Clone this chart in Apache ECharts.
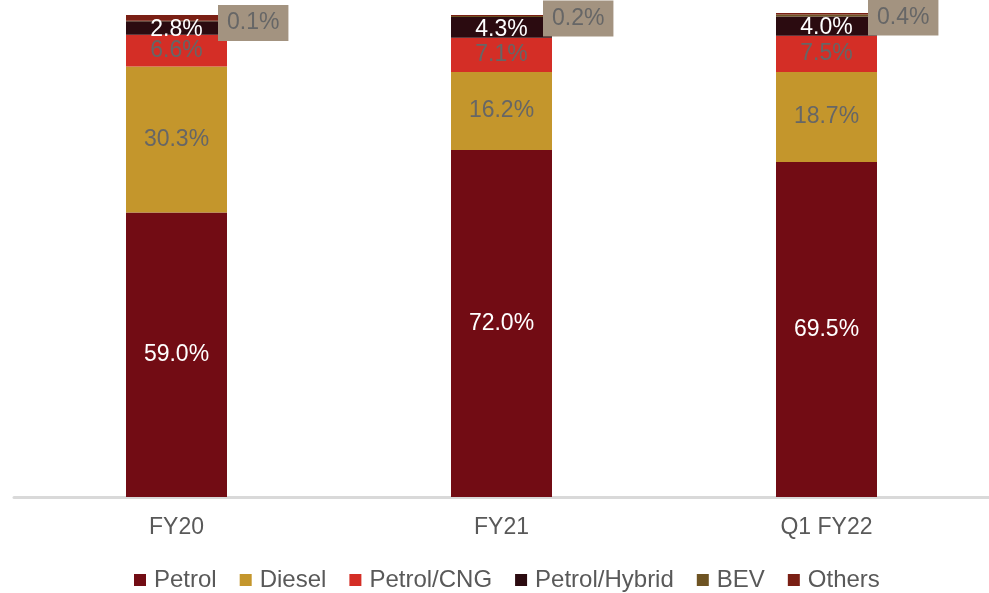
<!DOCTYPE html>
<html><head><meta charset="utf-8">
<script src="https://cdn.jsdelivr.net/npm/echarts@6/dist/echarts.min.js"></script>
<style>html,body{margin:0;padding:0;background:#fff}#c{width:989px;height:593px}</style>
</head><body><div id="c"></div>
<script>
const categories = ['FY20', 'FY21', 'Q1 FY22'];
const petrol = [59.0, 72.0, 69.5];
const diesel = [30.3, 16.2, 18.7];
const petrolCng = [6.6, 7.1, 7.5];
const petrolHybrid = [2.8, 4.3, 4.0];
const bev = [0.1, 0.2, 0.4];
const others = [1.2, 0.2, 0.3];

const FONT = 'Liberation Sans, Arial, sans-serif';
const fmt = p => p.value.toFixed(1) + '%';
function seg(name, data, color, labelColor, extra) {
  return Object.assign({
    name, type: 'bar', stack: 'total', data, barWidth: 101, clip: false,
    itemStyle: { color },
    label: { show: true, position: 'inside', color: labelColor, fontSize: 23, fontFamily: FONT, formatter: fmt },
    emphasis: { disabled: true }
  }, extra || {});
}
const chart = echarts.init(document.getElementById('c'));
chart.setOption({
  animation: false,
  grid: { left: 14, width: 987, top: 15, bottom: 96, containLabel: false },
  xAxis: {
    type: 'category', data: categories,
    axisLine: { lineStyle: { color: '#d9d9d9', width: 3 } },
    axisTick: { show: false },
    axisLabel: { color: '#595959', fontSize: 23, fontFamily: FONT, margin: 19 }
  },
  yAxis: { type: 'value', min: 0, max: 100, show: false, splitLine: { show: false } },
  legend: {
    top: 563, left: 129, itemWidth: 12, itemHeight: 12, itemGap: 23,
    icon: 'rect',
    textStyle: { color: '#595959', fontSize: 24, fontFamily: FONT, padding: [0, 0, 0, 3] },
    data: ['Petrol', 'Diesel', 'Petrol/CNG', 'Petrol/Hybrid', 'BEV', 'Others']
  },
  series: [
    seg('Petrol', petrol, '#720c14', '#ffffff'),
    seg('Diesel', diesel, '#c4962c', '#666666'),
    seg('Petrol/CNG', petrolCng, '#d42e26', '#666666'),
    seg('Petrol/Hybrid', petrolHybrid, '#2b0b10', '#ffffff', { label: { show: true, position: 'inside', offset: [0, 2], color: '#ffffff', fontSize: 23, fontFamily: FONT, formatter: fmt } }),
    seg('BEV', bev, '#6e5423', '#666666', {
      label: { show: true, position: 'right', distance: -9, offset: [0, 2],
        backgroundColor: '#a39380', padding: [7, 9, 6, 9],
        color: '#666666', fontSize: 23, fontFamily: FONT, formatter: fmt }
    }),
    seg('Others', others, '#7a1f14', '#ffffff', { label: { show: false } })
  ]
});
</script></body></html>
